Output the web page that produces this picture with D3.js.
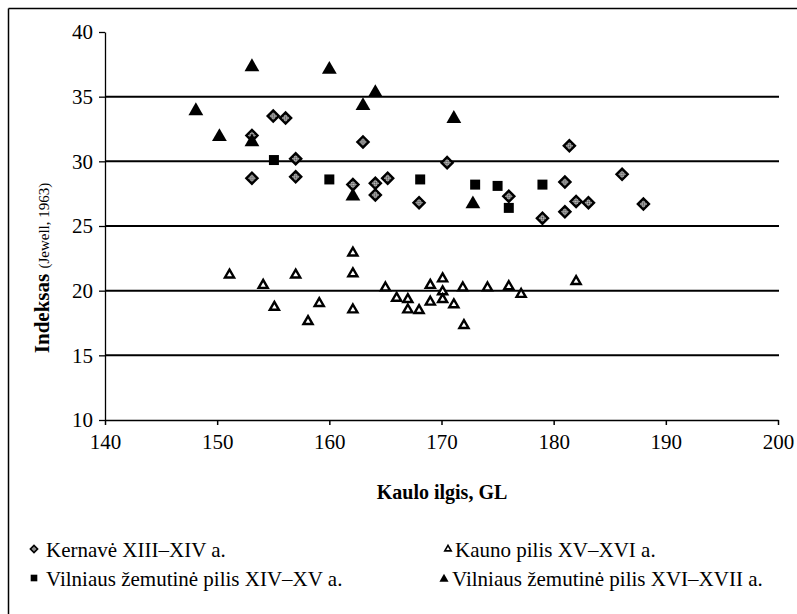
<!DOCTYPE html>
<html><head><meta charset="utf-8">
<script src="https://cdn.jsdelivr.net/npm/d3@7"></script>
<style>body{margin:0;background:#fff}svg{display:block}</style>
</head><body>
<svg id="c" width="797" height="614" font-family="Liberation Serif"></svg>
<script>
const xTicks=[140,150,160,170,180,190,200];
const yTicks=[10,15,20,25,30,35,40];
const gridValues=[15,20,25,30,35];
const kernave=[[153.1,28.7],[153.1,32.0],[155.0,33.5],[156.1,33.35],[157.0,30.2],[157.0,28.8],[163.0,31.5],[170.5,29.9],[162.1,28.2],[164.1,28.3],[164.1,27.4],[165.2,28.7],[168.0,26.8],[176.0,27.3],[181.4,31.2],[186.1,29.0],[181.0,28.4],[182.0,26.9],[183.1,26.8],[188.0,26.7],[179.0,25.6],[181.0,26.1]];
const kaunas=[[151.1,21.3],[154.1,20.5],[157.0,21.3],[155.1,18.8],[159.1,19.1],[158.1,17.7],[162.1,23.0],[162.1,21.4],[162.1,18.6],[165.0,20.3],[166.0,19.5],[167.0,19.4],[167.0,18.6],[168.0,18.55],[169.0,20.5],[169.0,19.2],[170.1,21.0],[170.1,20.0],[170.1,19.4],[171.1,19.0],[171.9,20.3],[172.0,17.4],[174.1,20.3],[176.0,20.4],[177.1,19.8],[182.0,20.8]];
const vilniusXIV=[[155.06,30.1],[160.0,28.6],[168.1,28.6],[173.0,28.2],[175.0,28.1],[176.0,26.4],[179.0,28.2]];
const vilniusXVI=[[153.1,37.3],[160.0,37.1],[148.1,33.9],[150.2,31.9],[153.1,31.5],[164.1,35.3],[163.0,34.3],[171.1,33.3],[162.1,27.3],[172.8,26.7]];
const legendLabels=["Kernavė XIII–XIV a.","Kauno pilis XV–XVI a.","Vilniaus žemutinė pilis XIV–XV a.","Vilniaus žemutinė pilis XVI–XVII a."];

const FONT="Liberation Serif";
const svg=d3.select("#c");
svg.append("line").attr("x1",8.5).attr("x2",8.5).attr("y1",8.5).attr("y2",614).attr("stroke","#000").attr("stroke-width",1.5);
svg.append("line").attr("x1",8.5).attr("x2",797).attr("y1",8.5).attr("y2",8.5).attr("stroke","#000").attr("stroke-width",1.5);

const x=d3.scaleLinear().domain([140,200]).range([105,778]);
const y=d3.scaleLinear().domain([10,40]).range([420,32]);

const defs=svg.append("defs");
const pat=defs.append("pattern").attr("id","chk").attr("width",3).attr("height",3).attr("patternUnits","userSpaceOnUse");
pat.append("rect").attr("width",3).attr("height",3).attr("fill","#d0d0d0");
pat.append("rect").attr("width",1.5).attr("height",1.5).attr("fill","#444");
pat.append("rect").attr("x",1.5).attr("y",1.5).attr("width",1.5).attr("height",1.5).attr("fill","#444");

svg.append("g").selectAll("line").data(gridValues).join("line")
 .attr("x1",x(140)).attr("x2",x(200)+1).attr("y1",d=>y(d)).attr("y2",d=>y(d))
 .attr("stroke","#000").attr("stroke-width",2);

const yAxis=d3.axisLeft(y).tickValues(yTicks).tickSize(6).tickSizeOuter(0).tickPadding(6);
const gy=svg.append("g").attr("transform",`translate(${x(140)},0)`).call(yAxis);
gy.attr("font-family",FONT).attr("font-size",21);
gy.selectAll("text").attr("fill","#000");
gy.selectAll("path,line").attr("stroke","#000").attr("stroke-width",1.3);
const xAxis=d3.axisBottom(x).tickValues(xTicks).tickSize(5).tickSizeOuter(0).tickPadding(9);
const gx=svg.append("g").attr("transform",`translate(0,${y(10)})`).call(xAxis);
gx.attr("font-family",FONT).attr("font-size",21);
gx.selectAll("text").attr("fill","#000");
gx.selectAll("path,line").attr("stroke","#000").attr("stroke-width",1.5);

svg.append("text").attr("x",442).attr("y",499).attr("text-anchor","middle").attr("font-family",FONT).attr("font-size",20).attr("font-weight","bold").text("Kaulo ilgis, GL");
const yt=svg.append("text").attr("transform","translate(49,268) rotate(-90)").attr("text-anchor","middle").attr("font-family",FONT);
yt.append("tspan").attr("font-size",21).attr("font-weight","bold").text("Indeksas ");
yt.append("tspan").attr("font-size",15).text("(Jewell, 1963)");

const sym=(type,size)=>d3.symbol().type(type).size(size)();
const g=svg.append("g");
g.selectAll(".k").data(kernave).join("path").attr("class","k")
 .attr("transform",d=>`translate(${x(d[0])},${y(d[1])}) rotate(45)`)
 .attr("d",sym(d3.symbolSquare,62)).attr("fill","url(#chk)").attr("stroke","#000").attr("stroke-width",2.4);
g.selectAll(".ka").data(kaunas).join("path").attr("class","ka")
 .attr("transform",d=>`translate(${x(d[0])},${y(d[1])+1})`)
 .attr("d",sym(d3.symbolTriangle,36)).attr("fill","#fff").attr("stroke","#000").attr("stroke-width",2.4);
g.selectAll(".v1").data(vilniusXIV).join("path").attr("class","v1")
 .attr("transform",d=>`translate(${x(d[0])},${y(d[1])})`)
 .attr("d",sym(d3.symbolSquare,100)).attr("fill","#000");
g.selectAll(".v2").data(vilniusXVI).join("path").attr("class","v2")
 .attr("transform",d=>`translate(${x(d[0])},${y(d[1])})`)
 .attr("d",sym(d3.symbolTriangle,95)).attr("fill","#000");

const leg=[{lbl:legendLabels[0],mx:34,tx:46,y:557,type:"k"},{lbl:legendLabels[1],mx:448,tx:455,y:557,type:"ka"},{lbl:legendLabels[2],mx:34,tx:46,y:586,type:"v1"},{lbl:legendLabels[3],mx:444,tx:452,y:586,type:"v2"}];
leg.forEach(l=>{
 if(l.type==="k") svg.append("path").attr("d",sym(d3.symbolSquare,26)).attr("transform",`translate(${l.mx},${l.y-8}) rotate(45)`).attr("fill","url(#chk)").attr("stroke","#000").attr("stroke-width",1.6);
 else if(l.type==="ka") svg.append("path").attr("d",sym(d3.symbolTriangle,18)).attr("transform",`translate(${l.mx},${l.y-8})`).attr("fill","#fff").attr("stroke","#000").attr("stroke-width",1.6);
 else if(l.type==="v1") svg.append("path").attr("d",sym(d3.symbolSquare,44)).attr("transform",`translate(${l.mx},${l.y-8})`).attr("fill","#000");
 else svg.append("path").attr("d",sym(d3.symbolTriangle,36)).attr("transform",`translate(${l.mx},${l.y-7})`).attr("fill","#000");
 svg.append("text").attr("x",l.tx).attr("y",l.y).attr("font-family",FONT).attr("font-size",21).text(l.lbl);
});
</script>
</body></html>
